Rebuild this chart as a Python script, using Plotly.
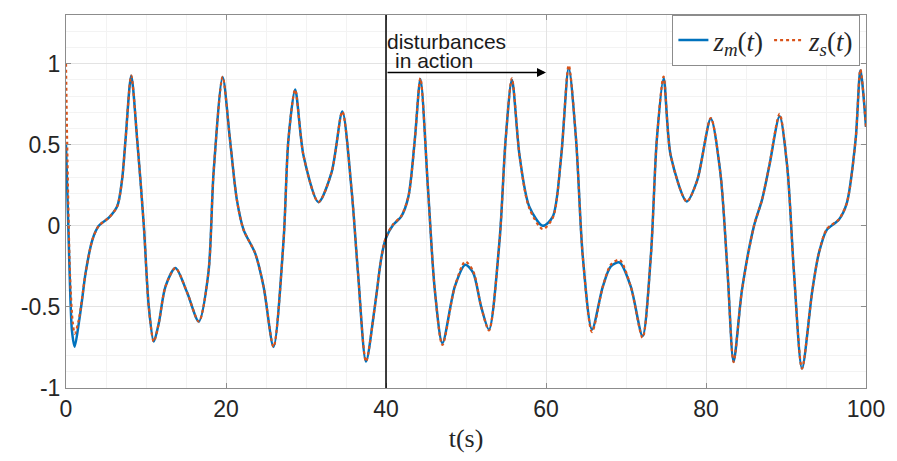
import plotly.graph_objects as go

# master response z_m(t)
t_m = [0, 0.4, 0.75, 1.08, 1.6, 2.0, 2.45, 3.3, 4.1, 5.36, 6.4, 7.0, 7.44, 8.15, 8.9, 9.73,
       10.35, 10.97, 11.6, 12.43, 13.68, 15.13, 16.6, 17.8, 18.45, 19.58, 20.5, 21.36, 22.2,
       23.65, 24.7, 25.94, 27.2, 27.8, 28.64, 29.7, 31.55, 33.2, 34.54, 35.7, 36.5, 37.5,
       38.6, 39.44, 40, 40.9, 41.9, 42.8, 43.6, 44.3, 45.26, 46.1, 47.05, 48.6, 49.9, 50.9,
       51.9, 52.87, 54.2, 54.95, 55.74, 56.7, 57.9, 59.6, 60.85, 61.9, 62.84, 63.76, 64.6,
       65.75, 67.1, 68.1, 69.2, 70.6, 72.07, 73.1, 73.85, 74.7, 75.6, 77.6, 78.9, 80.6,
       81.8, 82.7, 83.45, 84.5, 86.0, 87.0, 87.9, 89.2, 90.15, 91.0, 92.0, 93.3, 94.1,
       95.1, 96.6, 97.6, 98.7, 99.3, 100]
z_m = [0.5, -0.2, -0.65, -0.745, -0.6, -0.46, -0.29, -0.086, 0.0, 0.05, 0.12, 0.28, 0.53,
       0.926, 0.53, 0.0, -0.5, -0.714, -0.6, -0.375, -0.26, -0.41, -0.59, -0.29, 0.33,
       0.918, 0.53, 0.16, -0.025, -0.17, -0.375, -0.747, -0.086, 0.53, 0.84, 0.43, 0.146,
       0.33, 0.705, 0.22, -0.29, -0.837, -0.5, -0.19, -0.075, 0.006, 0.057, 0.18, 0.53,
       0.905, 0.22, -0.395, -0.724, -0.375, -0.24, -0.29, -0.5, -0.64, -0.086, 0.53, 0.90,
       0.43, 0.12, 0.0, 0.057, 0.43, 0.973, 0.53, -0.19, -0.64, -0.375, -0.25, -0.226,
       -0.375, -0.68, -0.19, 0.53, 0.91, 0.43, 0.15, 0.28, 0.66, 0.325, -0.29, -0.837,
       -0.395, 0.0, 0.16, 0.366, 0.675, 0.366, -0.29, -0.88, -0.395, -0.17, -0.025, 0.037,
       0.14, 0.53, 0.96, 0.61]

# slave response z_s(t)
t_s = [0, 0.15, 0.5, 0.85, 1.1, 1.6, 2.0, 2.45, 3.3, 4.1, 5.36, 6.4, 7.0, 7.44, 8.15, 8.9, 9.73,
       10.35, 10.97, 11.6, 12.43, 13.68, 15.13, 16.6, 17.8, 18.45, 19.58, 20.5, 21.36, 22.2,
       23.65, 24.7, 25.94, 27.2, 27.8, 28.64, 29.7, 31.55, 33.2, 34.54, 35.7, 36.5, 37.5,
       38.6, 39.44, 40, 40.9, 41.9, 42.8, 43.6, 44.3, 45.26, 46.1, 47.05, 48.6, 49.9, 50.9,
       51.9, 52.87, 54.2, 54.95, 55.74, 56.7, 57.9, 59.6, 60.85, 61.9, 62.84, 63.76, 64.6,
       65.75, 67.1, 68.1, 69.2, 70.6, 72.07, 73.1, 73.85, 74.7, 75.6, 77.6, 78.9, 80.6,
       81.8, 82.7, 83.45, 84.5, 86.0, 87.0, 87.9, 89.2, 90.15, 91.0, 92.0, 93.3, 94.1,
       95.1, 96.6, 97.6, 98.7, 99.3, 100]
z_s = [1.0, 0.5, -0.3, -0.6, -0.665, -0.58, -0.45, -0.29, -0.086, 0.0, 0.05, 0.12, 0.28, 0.53,
       0.926, 0.53, 0.0, -0.5, -0.714, -0.6, -0.375, -0.26, -0.41, -0.59, -0.29, 0.33,
       0.918, 0.53, 0.16, -0.025, -0.17, -0.375, -0.747, -0.086, 0.53, 0.84, 0.43, 0.146,
       0.33, 0.705, 0.22, -0.29, -0.837, -0.5, -0.19, -0.07, 0.01, 0.06, 0.18, 0.53,
       0.91, 0.22, -0.395, -0.735, -0.375, -0.22, -0.28, -0.5, -0.645, -0.086, 0.53, 0.91,
       0.43, 0.11, -0.02, 0.05, 0.43, 0.99, 0.53, -0.19, -0.655, -0.375, -0.24, -0.21,
       -0.375, -0.69, -0.19, 0.53, 0.92, 0.43, 0.15, 0.28, 0.665, 0.325, -0.29, -0.84,
       -0.395, 0.0, 0.16, 0.37, 0.69, 0.366, -0.29, -0.88, -0.395, -0.17, -0.02, 0.04,
       0.14, 0.53, 0.965, 0.61]

x_ticks = [0, 20, 40, 60, 80, 100]
y_ticks = [-1, -0.5, 0, 0.5, 1]
y_tick_text = ["-1", "-0.5", "0", "0.5", "1"]
disturbance_start = 40
arrow_end = 60
arrow_y = 0.945

BLUE = "#0072BD"
ORANGE = "#D95319"
AXIS = "#8c8c8c"
SERIF = "Liberation Serif"

fig = go.Figure()
fig.add_trace(go.Scatter(x=t_m, y=z_m, mode="lines", line=dict(color=BLUE, width=2.5, shape="spline", smoothing=0.8),
                         name="<i>z</i><sub><i>m</i></sub>(<i>t</i>)"))
fig.add_trace(go.Scatter(x=t_s, y=z_s, mode="lines", line=dict(color=ORANGE, width=2.2, dash="dot", shape="spline", smoothing=0.8),
                         name="<i>z</i><sub><i>s</i></sub>(<i>t</i>)"))

fig.add_shape(type="line", x0=disturbance_start, x1=disturbance_start, y0=0, y1=1, xref="x", yref="paper",
              line=dict(color="black", width=1.5))
fig.add_annotation(x=arrow_end, y=arrow_y, ax=disturbance_start, ay=arrow_y, xref="x", yref="y",
                   axref="x", ayref="y", showarrow=True, arrowhead=2, arrowsize=1.2, arrowwidth=1.5,
                   arrowcolor="black", text="")
fig.add_annotation(x=disturbance_start, y=1.135, xref="x", yref="y", text="disturbances", showarrow=False,
                   xanchor="left", yanchor="middle", xshift=-1,
                   font=dict(family="Liberation Sans, Arial", size=21, color="#1a1a1a"))
fig.add_annotation(x=disturbance_start, y=1.02, xref="x", yref="y", text="in action", showarrow=False,
                   xanchor="left", yanchor="middle", xshift=7,
                   font=dict(family="Liberation Sans, Arial", size=21, color="#1a1a1a"))

fig.update_layout(
    width=897, height=461,
    margin=dict(l=66, r=28, t=15, b=73),
    plot_bgcolor="white", paper_bgcolor="white",
    font=dict(family="Liberation Sans, Arial", size=23, color="#262626"),
    legend=dict(orientation="h", x=0.993, xanchor="right", y=1.0, yanchor="top",
                bgcolor="white", bordercolor=AXIS, borderwidth=1,
                font=dict(family=SERIF, size=27, color="#262626"),
                itemwidth=30, tracegroupgap=0),
    xaxis=dict(range=[0, 100], tickvals=x_ticks, ticks="inside", ticklen=5, tickcolor=AXIS,
               showline=True, linecolor=AXIS, linewidth=1, mirror="ticks",
               showgrid=True, gridcolor="#e3e3e3", gridwidth=1, zeroline=False,
               minor=dict(dtick=5, showgrid=True, gridcolor="#f3f3f3", ticks=""),
               title=dict(text="t(s)", font=dict(family=SERIF, size=26, color="#262626"), standoff=8)),
    yaxis=dict(range=[-1, 1.3], tickvals=y_ticks, ticktext=y_tick_text, ticks="inside", ticklen=5,
               tickcolor=AXIS, showline=True, linecolor=AXIS, linewidth=1, mirror="ticks",
               showgrid=True, gridcolor="#e3e3e3", gridwidth=1, zeroline=False,
               minor=dict(dtick=0.1, tick0=0, showgrid=True, gridcolor="#f3f3f3", ticks="")),
)

fig.write_html("out.html")
